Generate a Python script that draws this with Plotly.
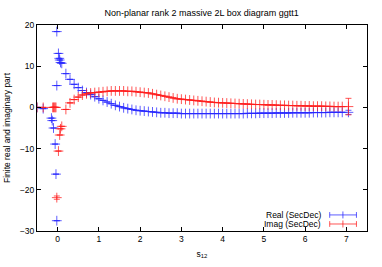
import plotly.graph_objects as go

# main s12 grid (shared by both series)
s12 = [0.1, 0.2, 0.3, 0.4, 0.5, 0.6, 0.7, 0.8, 0.9, 1.0,
       1.1, 1.2, 1.3, 1.4, 1.5, 1.6, 1.7, 1.8, 1.9, 2.0,
       2.1, 2.2, 2.3, 2.4, 2.5, 2.6, 2.7, 2.8, 2.9, 3.0,
       3.1, 3.2, 3.3, 3.4, 3.5, 3.6, 3.7, 3.8, 3.9, 4.0,
       4.1, 4.2, 4.3, 4.4, 4.5, 4.6, 4.7, 4.8, 4.9, 5.0,
       5.1, 5.2, 5.3, 5.4, 5.5, 5.6, 5.7, 5.8, 5.9, 6.0,
       6.1, 6.2, 6.3, 6.4, 6.5, 6.6, 6.7, 6.8, 6.9, 7.05]

real_main = [10.7, 8.2, 6.8, 5.6, 4.8, 4.1, 3.6, 3.1, 2.6, 2.1,
             1.7, 1.3, 0.9, 0.5, 0.2, -0.1, -0.3, -0.5, -0.7, -0.8,
             -0.9, -1.0, -1.1, -1.2, -1.3, -1.3, -1.4, -1.4, -1.4, -1.5,
             -1.5, -1.5, -1.5, -1.5, -1.5, -1.5, -1.5, -1.5, -1.5, -1.5,
             -1.5, -1.5, -1.5, -1.5, -1.5, -1.45, -1.45, -1.45, -1.4, -1.4,
             -1.4, -1.4, -1.35, -1.35, -1.35, -1.35, -1.3, -1.3, -1.3, -1.3,
             -1.3, -1.25, -1.25, -1.25, -1.25, -1.2, -1.2, -1.2, -1.2, -1.2]
real_main_err = [0] * 69 + [0.5]

imag_main = [-4.6, -0.5, 1.1, 1.9, 2.5, 3.0, 3.3, 3.5, 3.6, 3.7,
             3.8, 3.9, 4.0, 4.0, 4.0, 4.0, 3.9, 3.9, 3.8, 3.7,
             3.6, 3.5, 3.3, 3.1, 2.9, 2.7, 2.5, 2.3, 2.1, 2.0,
             1.9, 1.8, 1.7, 1.6, 1.5, 1.4, 1.3, 1.2, 1.15, 1.1,
             1.05, 1.0, 0.95, 0.9, 0.85, 0.8, 0.75, 0.7, 0.7, 0.65,
             0.6, 0.6, 0.55, 0.5, 0.5, 0.45, 0.45, 0.4, 0.4, 0.35,
             0.35, 0.3, 0.3, 0.3, 0.25, 0.25, 0.2, 0.2, 0.2, 0.2]
imag_main_err = [0] * 69 + [2.0]

# points close to threshold
real_near_x = [-0.5, -0.35, -0.15, -0.13, -0.1, -0.06, -0.04, -0.02, -0.02, -0.02, 0.02, 0.04, 0.05, 0.07]
real_near_y = [0.0, -0.3, -2.6, -3.2, -5.0, -8.9, -16.2, -27.5, 18.4, 5.3, 13.1, 11.9, 11.5, 10.9]
real_near_err = [0] * len(real_near_x)

imag_near_x = [-0.5, -0.35, -0.12, -0.1, -0.08, -0.06, -0.04, -0.02, 0.02, 0.05, 0.07]
imag_near_y = [0.0, 0.0, 0.0, 0.0, 0.0, 0.0, 0.0, -21.9, -10.6, -6.7, -5.2]
imag_near_err = [0, 0, 0, 0, 0, 0, 0, 0.4, 0, 0, 0]

series = [
    ("Real (SecDec)", real_near_x + s12, real_near_y + real_main, real_near_err + real_main_err, "rgba(40,40,255,0.75)"),
    ("Imag (SecDec)", imag_near_x + s12, imag_near_y + imag_main, imag_near_err + imag_main_err, "rgba(255,30,30,0.75)"),
]

fig = go.Figure()
for name, xs, ys, errs, col in series:
    fig.add_trace(go.Scatter(
        x=xs, y=ys, mode="markers", name=name,
        marker=dict(symbol="cross-thin", size=7, color=col,
                    line=dict(width=1, color=col)),
        error_y=dict(type="data", array=errs, visible=True,
                     thickness=1, width=3, color=col),
        showlegend=False,
    ))

# gnuplot-like key drawn by hand
font = dict(family="Liberation Sans, Arial, sans-serif", size=8.5, color="#000000")
key_y = [0.078, 0.034]
for (name, xs, ys, errs, col), ky in zip(series, key_y):
    fig.add_annotation(x=0.868, y=ky, xref="paper", yref="paper", text=name,
                       showarrow=False, xanchor="right", yanchor="middle", font=font)
    fig.add_shape(type="line", xref="paper", yref="paper", x0=0.887, x1=0.968,
                  y0=ky, y1=ky, line=dict(color=col, width=1))
    for kx in (0.887, 0.968):
        fig.add_shape(type="line", xref="paper", yref="paper", x0=kx, x1=kx,
                      y0=ky - 0.014, y1=ky + 0.014, line=dict(color=col, width=1))
    fig.add_shape(type="line", xref="paper", yref="paper", x0=0.927, x1=0.927,
                  y0=ky - 0.017, y1=ky + 0.017, line=dict(color=col, width=1))

fig.update_xaxes(
    range=[-0.5, 7.5], tickvals=[0, 1, 2, 3, 4, 5, 6, 7], automargin=False,
    ticks="inside", ticklen=4, tickcolor="#000000", mirror="allticks",
    showline=True, linecolor="#000000", linewidth=1, showgrid=False, zeroline=False,
    title=dict(text="s<sub>12</sub>", font=font, standoff=7), tickfont=font,
)
fig.update_yaxes(
    range=[-30, 20], tickvals=[-30, -20, -10, 0, 10, 20], automargin=False,
    ticks="inside", ticklen=4, tickcolor="#000000", mirror="allticks",
    showline=True, linecolor="#000000", linewidth=1, showgrid=False, zeroline=False,
    title=dict(text="Finite real and imaginary part", font=font, standoff=7), tickfont=font,
)
fig.update_layout(
    width=382, height=267,
    margin=dict(l=37, r=15, t=25, b=36),
    paper_bgcolor="#ffffff", plot_bgcolor="#ffffff",
    title=dict(text="Non-planar rank 2 massive 2L box diagram ggtt1",
               x=0.528, xanchor="center", y=0.952, yanchor="middle",
               font=dict(family=font["family"], size=9, color="#000000")),
    font=font,
)

fig.write_html("out.html", config={"displayModeBar": False},
               post_script="document.body.style.margin='0';")
